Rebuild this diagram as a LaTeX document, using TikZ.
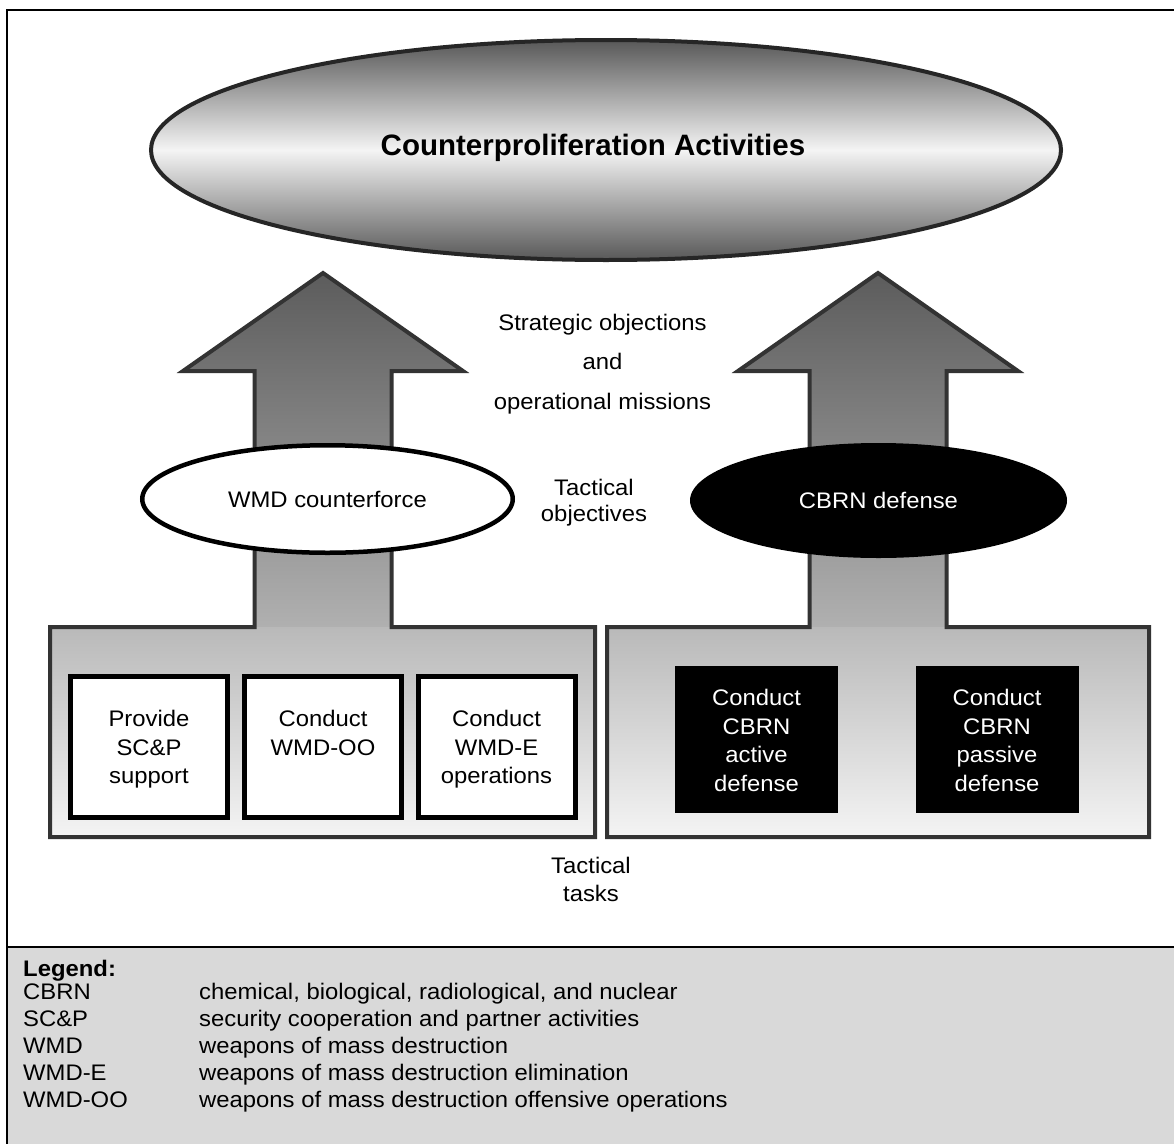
\documentclass[tikz,border=0pt]{standalone}
\usepackage{fontspec}
\setmainfont{Liberation Sans}[FakeStretch=1.06]
\newfontfamily\titlefont{Liberation Sans}
\usetikzlibrary{shapes.geometric}

\definecolor{edgegray}{HTML}{333333}
\definecolor{headgray}{HTML}{5A5A5A}
\definecolor{shaftgray}{HTML}{B0B0B0}
\definecolor{boxtop}{HTML}{B9B9B9}
\definecolor{boxbottom}{HTML}{F6F6F6}
\definecolor{legendbg}{HTML}{D9D9D9}
\definecolor{ovaldark}{HTML}{585858}
\definecolor{ovallight}{HTML}{F4F4F4}

\tikzset{
  bodyfont/.style={font=\fontsize{22.5}{28.5}\selectfont},
  frameline/.style={line width=2.5pt, black},
  groupedge/.style={draw=edgegray, line width=4pt, line join=miter},
  taskbox/.style={draw=black, line width=5pt, fill=white,
    minimum width=157pt, minimum height=141pt, inner sep=0pt},
  darkbox/.style={fill=black, minimum width=163pt, minimum height=147pt, inner sep=0pt},
  boxtext/.style={bodyfont, align=center, inner sep=0pt, anchor=north},
  midtext/.style={bodyfont, inner sep=0pt, anchor=base},
  legterm/.style={bodyfont, inner sep=0pt, anchor=base west},
}

% outlines of the two block arrows, each merged with its task panel
\def\leftgroup{(323,273) -- (463,371) -- (391.5,371) -- (391.5,627) -- (595,627)
  -- (595,837) -- (50,837) -- (50,627) -- (254.5,627) -- (254.5,371) -- (183,371) -- cycle}
\def\rightgroup{(878,273) -- (1018,371) -- (946.5,371) -- (946.5,627) -- (1149,627)
  -- (1149,837) -- (607,837) -- (607,627) -- (809.5,627) -- (809.5,371) -- (738,371) -- cycle}

\begin{document}
\begin{tikzpicture}[x=1pt, y=-1pt]
\useasboundingbox (0,0) rectangle (1174,1143);

% legend band and outer frame
\fill[legendbg] (7,947) rectangle (1190,1160);
\draw[frameline] (1190,10) -- (7,10) -- (7,1160);
\draw[frameline] (7,947) -- (1190,947);

% shaded arrows with task panels
\begin{scope}
  \clip \leftgroup \rightgroup;
  \shade[top color=headgray, bottom color=shaftgray] (40,265) rectangle (1160,627);
  \shade[top color=boxtop, bottom color=boxbottom] (40,627) rectangle (1160,845);
\end{scope}
\draw[groupedge] \leftgroup;
\draw[groupedge] \rightgroup;

% top-level oval
\node[ellipse, draw=black!85, line width=4pt, top color=ovaldark, bottom color=ovaldark,
  middle color=ovallight, minimum width=910pt, minimum height=220pt, inner sep=0pt]
  (cp) at (606,150) {};
\node[inner sep=0pt, anchor=base, font=\fontsize{29.5}{34}\selectfont\titlefont\bfseries]
  (cptext) at (593,155) {Counterproliferation Activities};

% tactical objective ovals
\node[ellipse, draw=black, line width=4.5pt, fill=white, minimum width=370.5pt,
  minimum height=107.5pt, inner sep=0pt, bodyfont] (wmd) at (327.5,499) {WMD counterforce};
\node[ellipse, fill=black, text=white, minimum width=377pt, minimum height=115pt,
  inner sep=0pt, bodyfont] (cbrn) at (878.5,500.5) {CBRN defense};

% task boxes, WMD counterforce side
\node[taskbox] (t1) at (149,747) {};
\node[taskbox] (t2) at (323,747) {};
\node[taskbox] (t3) at (496.5,747) {};
\node[boxtext] (t1text) at (149,710) {Provide\\SC\&P\\support};
\node[boxtext] (t2text) at (323,710) {Conduct\\WMD-OO};
\node[boxtext] (t3text) at (496.5,710) {Conduct\\WMD-E\\operations};

% task boxes, CBRN defense side
\node[darkbox] (d1) at (756.5,739.5) {};
\node[darkbox] (d2) at (997,739.5) {};
\node[boxtext, text=white] (d1text) at (756.5,689) {Conduct\\CBRN\\active\\defense};
\node[boxtext, text=white] (d2text) at (997,689) {Conduct\\CBRN\\passive\\defense};

% level labels in the middle column
\node[midtext] (lvl1) at (602.5,330) {Strategic objections};
\node[midtext] (lvl2) at (602.5,369.3) {and};
\node[midtext] (lvl3) at (602.5,409.3) {operational missions};
\node[midtext] (obj1) at (594,495) {Tactical};
\node[midtext] (obj2) at (594,521) {objectives};
\node[midtext] (tsk1) at (591,873) {Tactical};
\node[midtext] (tsk2) at (591,901) {tasks};

% legend
\node[legterm, font=\fontsize{22.5}{28.5}\selectfont\bfseries] (leg) at (23,976.7) {Legend:};
\node[legterm] (a1) at (23,999.5) {CBRN};
\node[legterm] (a2) at (23,1026.6) {SC\&P};
\node[legterm] (a3) at (23,1053.7) {WMD};
\node[legterm] (a4) at (23,1080.8) {WMD-E};
\node[legterm] (a5) at (23,1107.9) {WMD-OO};
\node[legterm] (b1) at (199,999.5) {chemical, biological, radiological, and nuclear};
\node[legterm] (b2) at (199,1026.6) {security cooperation and partner activities};
\node[legterm] (b3) at (199,1053.7) {weapons of mass destruction};
\node[legterm] (b4) at (199,1080.8) {weapons of mass destruction elimination};
\node[legterm] (b5) at (199,1107.9) {weapons of mass destruction offensive operations};
\end{tikzpicture}
\end{document}
